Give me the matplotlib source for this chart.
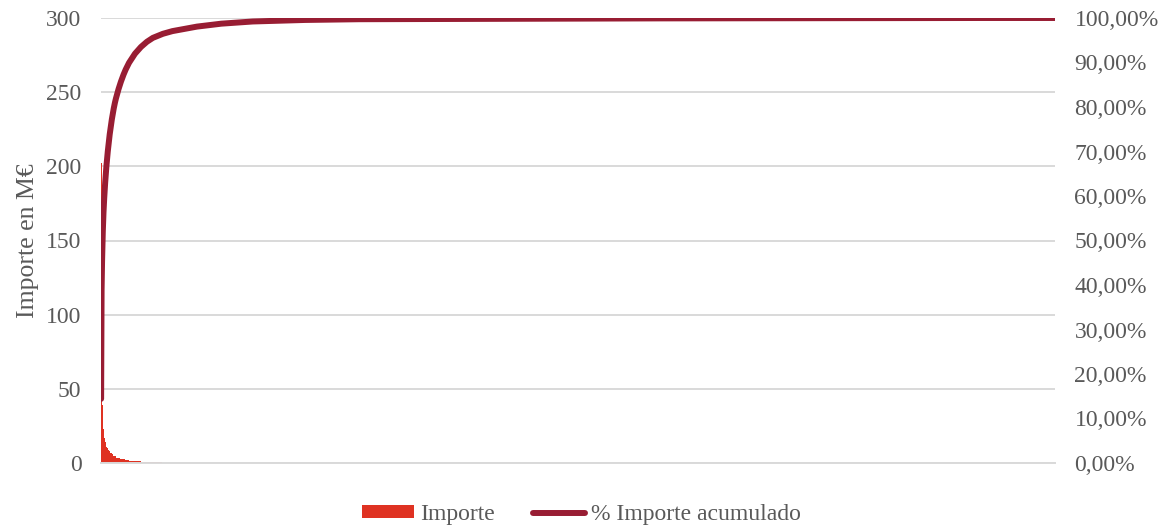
import numpy as np
import matplotlib
matplotlib.use("Agg")
import matplotlib.pyplot as plt
from matplotlib.patches import Patch
from matplotlib.lines import Line2D
from matplotlib.ticker import FuncFormatter, MultipleLocator

# ----------------------------------------------------
# Data (importe en M€, ordenado de mayor a menor)
# ----------------------------------------------------
# largest items, one value per item
head_values = [258, 235, 202, 64, 52, 45, 39, 34, 30, 26, 23, 21, 19]

# rest of the items, as runs of (count, value)
run_counts = [2, 2, 2, 2, 2, 2,
              4, 4, 4, 4,
              5, 5, 5, 5,
              10, 10, 10, 10, 15,
              25, 25, 25, 25,
              40, 40,
              100, 100, 130,
              200, 220,
              1000, 1000, 640,
              314]
run_values = [17, 15.5, 14, 13, 12, 11,
              10, 9, 8, 7,
              6.5, 5.8, 5.0, 4.4,
              3.6, 3.1, 2.7, 2.4, 2.0,
              1.5, 1.1, 0.85, 0.65,
              0.4, 0.28,
              0.18, 0.12, 0.07,
              0.03, 0.015,
              0.003, 0.0015, 0.0008,
              0.0]

importe = np.concatenate([head_values, np.repeat(run_values, run_counts)])
pct_acumulado = np.cumsum(importe) / importe.sum() * 100
x = np.arange(len(importe))

# ----------------------------------------------------
# Style
# ----------------------------------------------------
BAR_COLOR = "#DF3222"
LINE_COLOR = "#981D33"
TEXT_COLOR = "#595959"
GRID_COLOR = "#D9D9D9"
FONT = "Liberation Serif"
FS = 17

plt.rcParams["font.family"] = FONT

fig, ax = plt.subplots(figsize=(11.63, 5.28), dpi=100)
fig.subplots_adjust(left=101 / 1163, right=1055 / 1163,
                    top=1 - 18 / 528, bottom=1 - 463 / 528)

ax.bar(x, importe, width=1.0, color=BAR_COLOR, linewidth=0, zorder=2)
ax.set_xlim(-0.5, len(importe) - 0.5)
ax.set_ylim(0, 300)
ax.yaxis.set_major_locator(MultipleLocator(50))
ax.grid(axis="y", color=GRID_COLOR, linewidth=1.4, zorder=0)
ax.set_axisbelow(True)
ax.set_xticks([])
ax.tick_params(axis="y", length=0, pad=14, labelsize=FS, labelcolor=TEXT_COLOR)
ax.set_ylabel("Importe en M€", fontsize=18.5, color=TEXT_COLOR, labelpad=5)
for s in ["top", "right", "left"]:
    ax.spines[s].set_visible(False)
ax.spines["bottom"].set_color(GRID_COLOR)
ax.spines["bottom"].set_linewidth(1.4)

ax2 = ax.twinx()
ax2.plot(x, pct_acumulado, color=LINE_COLOR, linewidth=4.3,
         solid_capstyle="round", zorder=3)
ax2.set_ylim(0, 100)
ax2.yaxis.set_major_locator(MultipleLocator(10))
ax2.yaxis.set_major_formatter(
    FuncFormatter(lambda v, p: f"{v:.2f}%".replace(".", ",")))
ax2.tick_params(axis="y", length=0, pad=14, labelsize=FS, labelcolor=TEXT_COLOR)
for s in ["top", "right", "left", "bottom"]:
    ax2.spines[s].set_visible(False)

# ----------------------------------------------------
# Legend
# ----------------------------------------------------
handles = [
    Patch(facecolor=BAR_COLOR, edgecolor="none"),
    Line2D([0], [0], color=LINE_COLOR, linewidth=4.3, solid_capstyle="round"),
]
labels = ["Importe", "% Importe acumulado"]
fig.legend(handles, labels, loc="lower center", ncol=2, frameon=False,
           bbox_to_anchor=(0.5, -0.035), fontsize=FS, labelcolor=TEXT_COLOR,
           handlelength=2.2, handleheight=0.45, handletextpad=0.25,
           columnspacing=1.6)

plt.savefig("out.png", dpi=100)
plt.close()
